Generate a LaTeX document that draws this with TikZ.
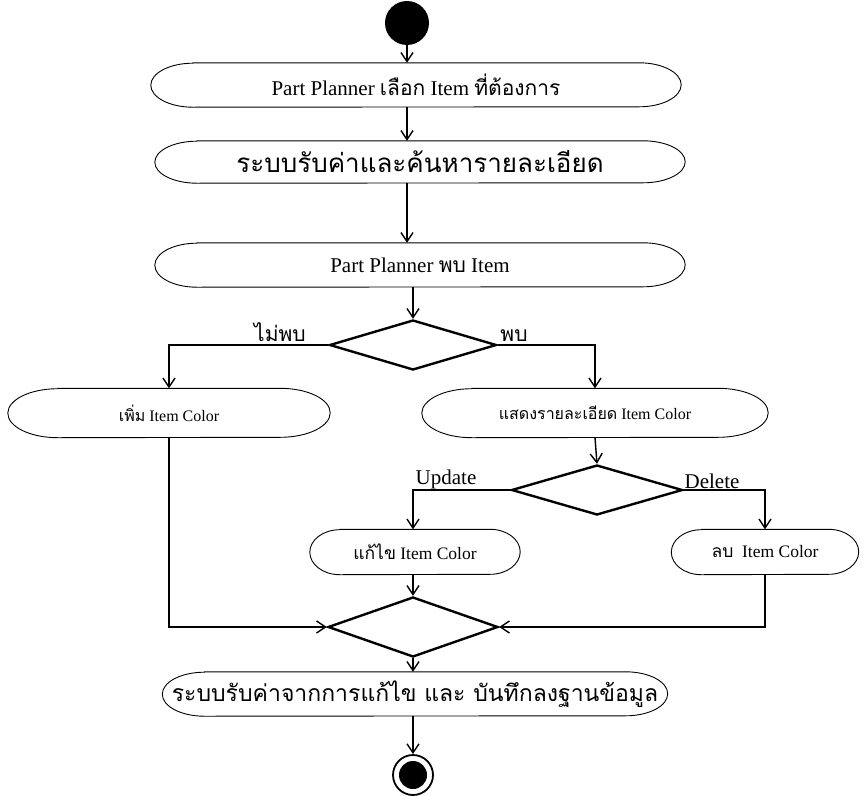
\documentclass[tikz,border=0pt]{standalone}
\usepackage{fontspec}
\setmainfont{Liberation Serif}
\newfontfamily\thai[Script=Thai]{Loma}
\usetikzlibrary{arrows.meta,shapes.geometric}

\tikzset{
  barb/.tip={Straight Barb[length=9pt,width=12pt,line width=1.4pt]},
  flow/.style={line width=1.4pt,-barb},
  branch/.style={line width=2.6pt,-barb},
  choice/.style={line width=2pt,-barb},
  capsule/.style={draw=none,inner sep=0pt,align=center},
  outline/.style={line width=0.9pt},
  decision/.style={diamond,draw,line width=2.4pt,inner sep=0pt},
  lbl/.style={inner sep=0pt,font=\fontsize{21}{24}\selectfont},
  maintext/.style={font=\fontsize{21}{24}\selectfont},
  sidetext/.style={font=\fontsize{16}{19}\selectfont},
  smalltext/.style={font=\fontsize{17.5}{20}\selectfont},
}

% outline of an activity: straight top/bottom, elliptic ends
% #1 node, #2 half height, #3 horizontal radius of the ends
\newcommand\activity[3]{%
  \draw[outline] ([xshift=#3]#1.north west) -- ([xshift=-#3]#1.north east)
    arc[start angle=90,end angle=-90,x radius=#3,y radius=#2]
    -- ([xshift=#3]#1.south west)
    arc[start angle=270,end angle=90,x radius=#3,y radius=#2] -- cycle;}

\begin{document}
\begin{tikzpicture}[x=1pt,y=-1pt]
\useasboundingbox (0,0) rectangle (864,795);

% initial state
\node[circle,fill=black,minimum size=44pt,inner sep=0pt] (start) at (407,23) {};

% activities on the main column
\node[capsule,maintext,minimum width=530pt,minimum height=44pt] (e1) at (416,85)
  {Part Planner {\thai เลือก} Item {\thai ที่ต้องการ}};
\node[capsule,minimum width=530pt,minimum height=42pt] (e2) at (420,162)
  {\thai\fontsize{26}{30}\selectfont ระบบรับค่าและค้นหารายละเอียด};
\node[capsule,maintext,minimum width=530pt,minimum height=44pt] (e3) at (420,265)
  {Part Planner {\thai พบ} Item};
\activity{e1}{22pt}{42pt}
\activity{e2}{21pt}{42pt}
\activity{e3}{22pt}{42pt}

% first decision
\node[decision,minimum width=167pt,minimum height=50pt] (d1) at (413,345) {};

% branches
\node[capsule,sidetext,minimum width=322pt,minimum height=49pt] (eL) at (169,413)
  {{\thai เพิ่ม} Item Color};
\node[capsule,sidetext,minimum width=346pt,minimum height=49pt] (eR) at (595,413)
  {{\thai แสดงรายละเอียด} Item Color};
\activity{eL}{24.5pt}{50pt}
\activity{eR}{24.5pt}{50pt}

% second decision
\node[decision,minimum width=171pt,minimum height=50pt] (d2) at (597,490) {};

\node[capsule,smalltext,minimum width=210pt,minimum height=45pt] (eU) at (415,552)
  {{\thai แก้ไข} Item Color};
\node[capsule,smalltext,minimum width=187pt,minimum height=45pt] (eD) at (765,552)
  {{\thai ลบ}\ \ Item Color};
\activity{eU}{22.5pt}{30pt}
\activity{eD}{22.5pt}{30pt}

% merge
\node[decision,minimum width=170pt,minimum height=60pt] (d3) at (413,627) {};

\node[capsule,minimum width=505pt,minimum height=44pt] (eF) at (415,694)
  {\thai\fontsize{23}{27}\selectfont ระบบรับค่าจากการแก้ไข และ บันทึกลงฐานข้อมูล};
\activity{eF}{22pt}{42pt}

% final state
\node[circle,draw,line width=1.8pt,minimum size=40pt,inner sep=0pt] (stop) at (413,775) {};
\fill (stop.center) circle (14pt);

% guard labels
\node[lbl,anchor=south] (nofind) at (280,342) {\thai ไม่พบ};
\node[lbl,anchor=south] (found) at (514,342) {\thai พบ};
\node[lbl,anchor=south] (upd) at (446,489) {Update};
\node[lbl,anchor=south] (del) at (712,489) {Delete};

% connectors
\draw[flow] (start) -- (e1.north -| start);
\draw[flow] (e1.south -| start) -- (e2.north -| start);
\draw[flow] (e2.south -| start) -- (e3.north -| start);
\draw[flow] (e3.south -| d1) -- (d1.north);
\draw[branch] (d1.west) -| (eL.north);
\draw[branch] (d1.east) -| (eR.north);
\draw[flow] (eR.south) -- (d2.north);
\draw[choice] (d2.west) -| (eU.north -| d1);
\draw[choice] (d2.east) -| (eD.north);
\draw[flow] (eU.south -| d3) -- (d3.north);
\draw[flow] (eL.south) |- (d3.west);
\draw[flow] (eD.south) |- (d3.east);
\draw[flow] (d3.south) -- (eF.north -| d3);
\draw[flow] (eF.south -| stop) -- (stop.north);
\end{tikzpicture}
\end{document}
